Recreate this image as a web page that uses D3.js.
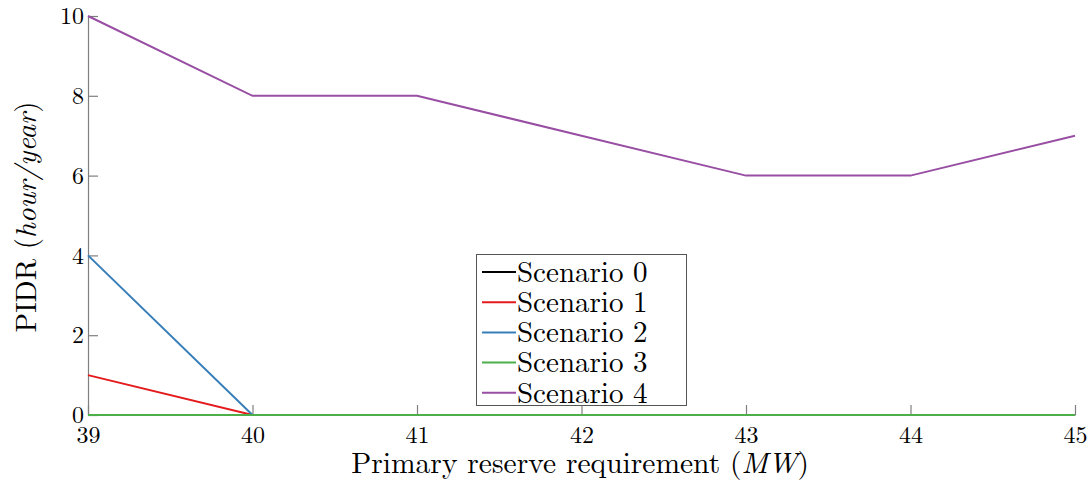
<!DOCTYPE html>
<html><head><meta charset="utf-8">
<script src="https://cdn.jsdelivr.net/npm/d3@7"></script>
<style>body{margin:0;background:#fff}svg{display:block}</style>
</head><body>
<svg id="c" width="1090" height="480"></svg>
<script>
const xValues = [39, 40, 41, 42, 43, 44, 45];
const scenario0 = [0, 0, 0, 0, 0, 0, 0];
const scenario1 = [1, 0, 0, 0, 0, 0, 0];
const scenario2 = [4, 0, 0, 0, 0, 0, 0];
const scenario3 = [0, 0, 0, 0, 0, 0, 0];
const scenario4 = [10, 8, 8, 7, 6, 6, 7];
const seriesNames = ["Scenario 0", "Scenario 1", "Scenario 2", "Scenario 3", "Scenario 4"];
const seriesColors = ["#000000", "#e41a1c", "#377eb8", "#4daf4a", "#984ea3"];
const xTicks = [39, 40, 41, 42, 43, 44, 45];
const yTicks = [0, 2, 4, 6, 8, 10];

const FONT = '"Latin Modern Roman", "CMU Serif", "Liberation Serif", serif';
const series = [scenario0, scenario1, scenario2, scenario3, scenario4];
const svg = d3.select("#c");
const L = 88, R = 1075, T = 16, B = 415;
const x = d3.scaleLinear().domain([39, 45]).range([L, R]);
const y = d3.scaleLinear().domain([0, 10]).range([B, T]);

// axes
const xa = svg.append("g").attr("transform", `translate(0,${B})`)
  .call(d3.axisBottom(x).tickValues(xTicks).tickSizeInner(-10).tickSizeOuter(0).tickPadding(11).tickFormat(d3.format("d")));
const ya = svg.append("g").attr("transform", `translate(${L},0)`)
  .call(d3.axisLeft(y).tickValues(yTicks).tickSizeInner(-10).tickSizeOuter(0).tickPadding(4).tickFormat(d3.format("d")));
[xa, ya].forEach(a => {
  a.attr("font-family", null);
  a.select(".domain").attr("stroke", "#7f7f7f").attr("stroke-width", 1.2);
  a.selectAll(".tick line").attr("stroke", "#7f7f7f").attr("stroke-width", 1.2);
  a.selectAll(".tick text").style("font-family", FONT).style("font-size", "24px").attr("fill", "#000");
});
xa.selectAll(".tick text").attr("dy", "0.7em");

const line = d3.line().x((d, i) => x(xValues[i])).y(d => y(d));
series.forEach((s, k) => {
  svg.append("path").datum(s).attr("d", line).attr("fill", "none")
    .attr("stroke", seriesColors[k]).attr("stroke-width", 2);
});

// legend
const lg = svg.append("g");
lg.append("rect").attr("x", 476.5).attr("y", 254.5).attr("width", 210).attr("height", 151)
  .attr("fill", "#fff").attr("stroke", "#555").attr("stroke-width", 1);
seriesNames.forEach((n, k) => {
  const cy = 272 + k * 30.2;
  lg.append("line").attr("x1", 482).attr("x2", 516).attr("y1", cy).attr("y2", cy)
    .attr("stroke", seriesColors[k]).attr("stroke-width", 2);
  lg.append("text").attr("x", 517).attr("y", cy).attr("dy", "0.34em")
    .style("font-family", FONT).style("font-size", "29px").text(n);
});

// axis titles
const xt = svg.append("text").attr("x", 580).attr("y", 472.5).attr("text-anchor", "middle")
  .style("font-family", FONT).style("font-size", "29.5px");
xt.append("tspan").text("Primary reserve requirement (");
xt.append("tspan").attr("font-style", "italic").text("MW");
xt.append("tspan").text(")");
const yt = svg.append("text").attr("transform", "translate(36,217) rotate(-90)").attr("text-anchor", "middle")
  .style("font-family", FONT).style("font-size", "29px");
yt.append("tspan").text("PIDR (");
yt.append("tspan").attr("font-style", "italic").text("hour/year");
yt.append("tspan").text(")");
</script>
</body></html>
